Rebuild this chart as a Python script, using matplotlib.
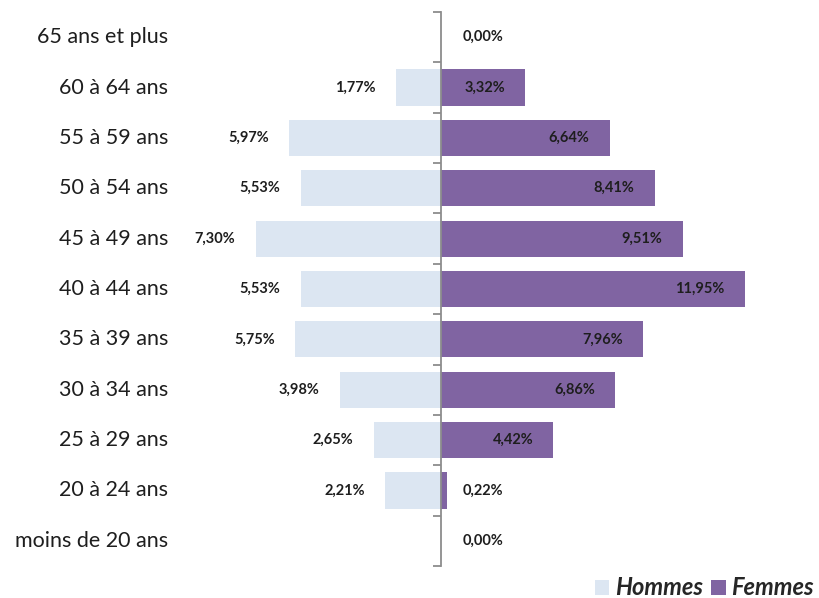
import matplotlib
matplotlib.use("Agg")
import matplotlib.pyplot as plt
import matplotlib.transforms as mtransforms
from matplotlib.patches import Patch

plt.rcParams["font.family"] = ["Lato", "DejaVu Sans"]

# age groups, bottom to top
groups = [
    "moins de 20 ans",
    "20 à 24 ans",
    "25 à 29 ans",
    "30 à 34 ans",
    "35 à 39 ans",
    "40 à 44 ans",
    "45 à 49 ans",
    "50 à 54 ans",
    "55 à 59 ans",
    "60 à 64 ans",
    "65 ans et plus",
]
hommes = [0.00, 2.21, 2.65, 3.98, 5.75, 5.53, 7.30, 5.53, 5.97, 1.77, 0.00]
femmes = [0.00, 0.22, 4.42, 6.86, 7.96, 11.95, 9.51, 8.41, 6.64, 3.32, 0.00]

c_h = "#dce6f2"
c_f = "#8064a2"
txt = "#1e1e1e"

W, H = 819, 598
fig = plt.figure(figsize=(W / 100, H / 100), dpi=100)

# axes in pixel terms: left 180, right 800, top 12, bottom 566
L, R, T, B = 180, 800, 12, 566
ax = fig.add_axes([L / W, (H - B) / H, (R - L) / W, (B - T) / H])
px = 25.4  # pixels per percent
ax.set_xlim(-(441 - L) / px, (R - 441) / px)
ax.set_ylim(-0.5, len(groups) - 0.5)

ypos = list(range(len(groups)))
ax.barh(ypos, [-v for v in hommes], height=0.72, color=c_h)
ax.barh(ypos, femmes, height=0.72, color=c_f)

off = 20 / px
for y, v in zip(ypos, hommes):
    if v > 0:
        ax.text(-v - off, y, f"{v:.2f}%".replace(".", ","), ha="right", va="center",
                fontsize=10.5, fontweight="bold", color=txt)
for y, v in zip(ypos, femmes):
    lab = f"{v:.2f}%".replace(".", ",")
    if v < 2:
        ax.text(22 / px, y, lab, ha="left", va="center",
                fontsize=10.5, fontweight="bold", color=txt)
    else:
        ax.text(v - off, y, lab, ha="right", va="center",
                fontsize=10.5, fontweight="bold", color=txt)

# category labels at the far left
trans = mtransforms.blended_transform_factory(fig.transFigure, ax.transData)
for y, g in zip(ypos, groups):
    ax.text(168 / W, y, g, transform=trans, ha="right", va="center",
            fontsize=15.5, color=txt)

for s in ["top", "right", "bottom"]:
    ax.spines[s].set_visible(False)
ax.spines["left"].set_position(("data", 0))
ax.spines["left"].set_color("#8c8c8c")
ax.spines["left"].set_linewidth(1.3)
ax.set_yticks([i - 0.5 for i in range(len(groups) + 1)])
ax.set_yticklabels([])
ax.tick_params(axis="y", direction="out", length=6, width=1.3, color="#8c8c8c")
ax.set_xticks([])

# title, mostly cut off by the top edge
fig.text(42 / W, 1.0 + 6 / H, "Pyramide des âges", ha="left", va="baseline",
         fontsize=25, fontweight="bold", color="#1f3864")

handles = [Patch(facecolor=c_h, label="Hommes"), Patch(facecolor=c_f, label="Femmes")]
fig.legend(handles=handles, loc="lower right", bbox_to_anchor=(1.02, -0.038), ncol=2,
           frameon=False, handlelength=0.6, handleheight=0.6, handletextpad=0.25,
           columnspacing=0.35, prop={"size": 17, "weight": "bold", "style": "italic"},
           labelcolor="#262626")

fig.savefig("out.png", dpi=100)
